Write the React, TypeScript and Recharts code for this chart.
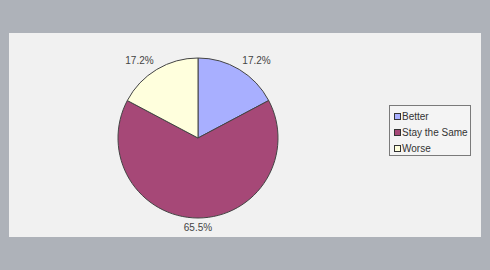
import * as React from "react"
import { Pie, PieChart, Cell, Legend } from "recharts"

const categories = ["Better", "Stay the Same", "Worse"]
const counts = [5, 19, 5]
const colors = ["#a8afff", "#a64877", "#ffffdd"]

const data = categories.map((name, i) => ({ name, value: counts[i], color: colors[i] }))

const RADIAN = Math.PI / 180

const renderLabel = (props: any) => {
  const { cx, cy, midAngle, outerRadius, percent } = props
  const r = outerRadius + 6
  const cos = Math.cos(midAngle * RADIAN)
  const sin = Math.sin(midAngle * RADIAN)
  const x = cx + r * cos
  const y = cy - r * sin
  const anchor = Math.abs(cos) < 0.2 ? "middle" : cos > 0 ? "start" : "end"
  const baseline = sin > 0 ? "auto" : "hanging"
  return (
    <text
      x={x}
      y={y}
      textAnchor={anchor}
      dominantBaseline={baseline}
      fontSize={10}
      fontFamily="Liberation Sans, Arial, sans-serif"
      fill="#444"
    >
      {(percent * 100).toFixed(1)}%
    </text>
  )
}

const LegendBox = () => (
  <div
    style={{
      width: 80,
      height: 49,
      border: "1px solid #7a7a7a",
      background: "#f4f4f4",
      fontFamily: "Liberation Sans, Arial, sans-serif",
      fontSize: 10,
      color: "#333",
      boxSizing: "content-box",
    }}
  >
    {data.map((d, i) => (
      <div
        key={d.name}
        style={{ position: "absolute", left: 5, top: 4 + i * 16, height: 14, display: "flex", alignItems: "center" }}
      >
        <span
          style={{
            display: "inline-block",
            width: 5,
            height: 5,
            background: d.color,
            border: "1px solid #333",
            marginRight: 1,
          }}
        />
        <span>{d.name}</span>
      </div>
    ))}
  </div>
)

export default function App() {
  return (
    <div style={{ position: "absolute", left: 0, top: 0, width: 490, height: 270, background: "#aeb2b9" }}>
      <div style={{ position: "absolute", left: 9, top: 33, width: 472, height: 204, background: "#f1f1f1" }} />
      <div style={{ position: "absolute", left: 0, top: 0 }}>
        <PieChart width={490} height={270} margin={{ top: 0, right: 0, bottom: 0, left: 0 }}>
          <Pie
            data={data}
            dataKey="value"
            nameKey="name"
            cx={198}
            cy={138}
            outerRadius={80}
            startAngle={90}
            endAngle={-270}
            stroke="#444"
            strokeWidth={1}
            label={renderLabel}
            labelLine={false}
            isAnimationActive={false}
          >
            {data.map((entry, index) => (
              <Cell key={`cell-${index}`} fill={entry.color} />
            ))}
          </Pie>
          <Legend
            content={<LegendBox />}
            wrapperStyle={{ position: "absolute", left: 389, top: 105, width: 82, height: 51 }}
          />
        </PieChart>
      </div>
    </div>
  )
}
